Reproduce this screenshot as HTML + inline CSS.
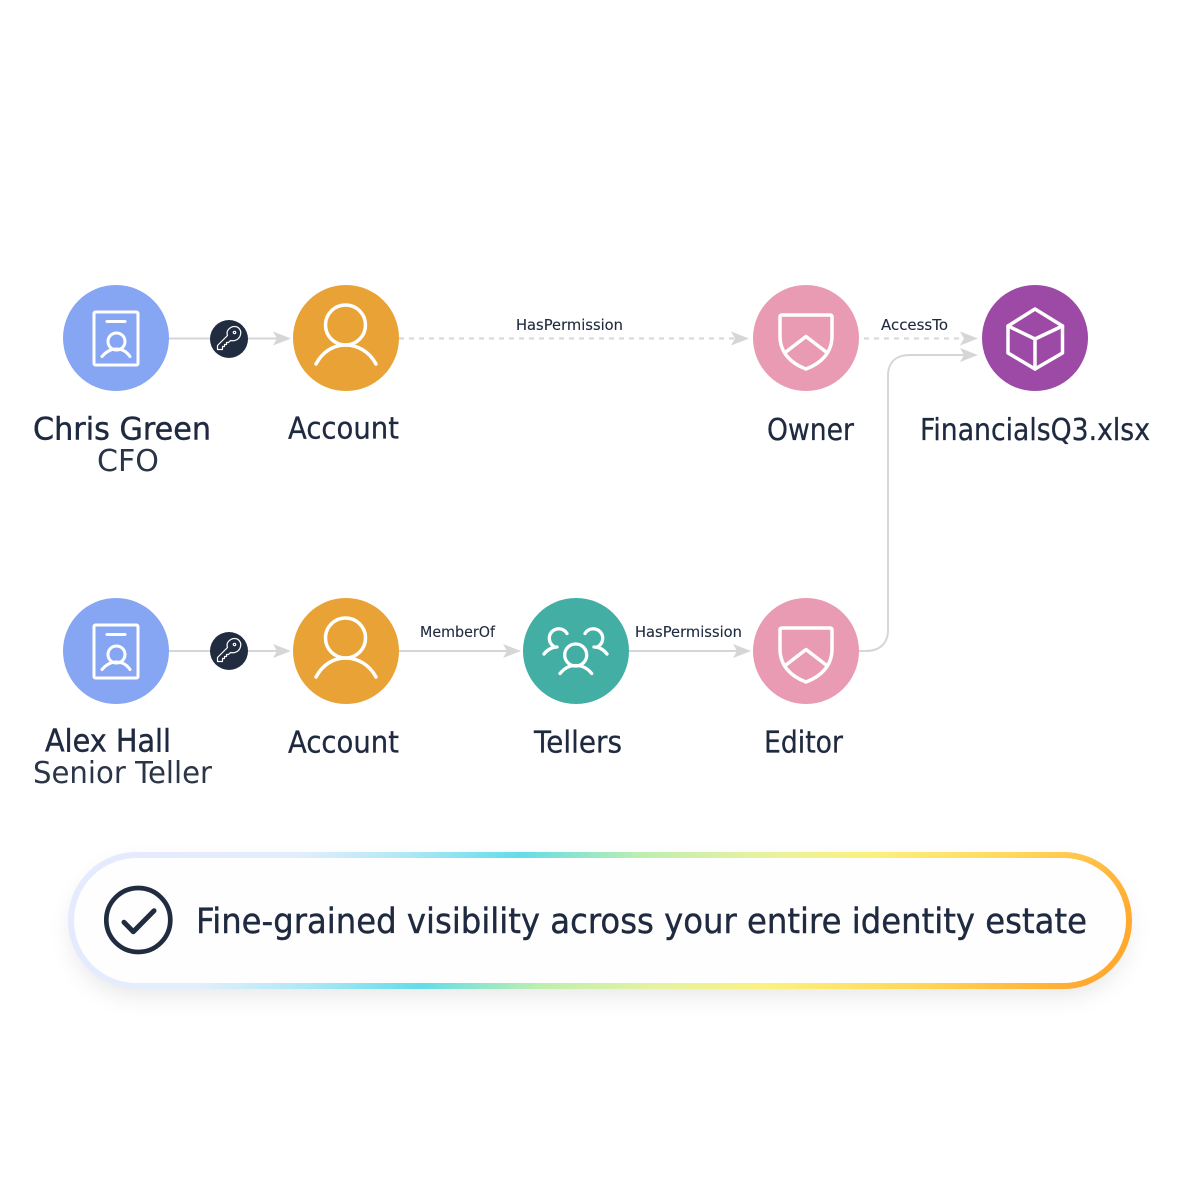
<!DOCTYPE html>
<html><head><meta charset="utf-8"><style>
html,body{margin:0;padding:0;background:#fff}
svg{display:block}
text{font-family:"DejaVu Sans","Liberation Sans",sans-serif;fill:#1f2a40}
.n{font-size:30px;stroke:#1f2a40;stroke-width:.3px}
.b{font-size:31.500px;stroke:#1f2a40;stroke-width:.45px}
.l{font-size:30.500px;fill:#2b3548}
.s{font-size:15px;stroke:#1f2a40;stroke-width:.12px}
</style></head><body>
<svg width="1200" height="1200" viewBox="0 0 1200 1200" xmlns="http://www.w3.org/2000/svg">
<defs>
<linearGradient id="g" gradientUnits="userSpaceOnUse" x1="68" y1="920" x2="740.600" y2="1433.500">
<stop offset="0" stop-color="#e6eafe"/><stop offset=".17" stop-color="#e2eefc"/><stop offset=".27" stop-color="#b0e8f5"/><stop offset=".378" stop-color="#62dde9"/><stop offset=".49" stop-color="#bdeeb0"/><stop offset=".6" stop-color="#e6f2a0"/><stop offset=".705" stop-color="#fbf27e"/><stop offset=".85" stop-color="#ffd65a"/><stop offset="1" stop-color="#ffa92e"/>
</linearGradient>
<filter id="sh" x="-5%" y="-20%" width="110%" height="150%"><feDropShadow dx="0" dy="10" stdDeviation="11" flood-color="#000" flood-opacity=".09"/></filter>
<g id="arrow"><path d="M-18 -7 L0 0 L-18 7 L-14 0Z" fill="#d6d6d8"/></g>
<g id="card" fill="none" stroke="#fff" stroke-width="3" stroke-linecap="round" stroke-linejoin="round"><rect x="-22" y="-26.500" width="44" height="53" rx="1.500"/><path d="M-9 -17H9" /><circle cx="0.500" cy="3" r="8.500"/><path d="M-14 18C-9 12 -4 10.500 0.500 10.500S10 12 14 18"/></g>
<g id="user" fill="none" stroke="#fff" stroke-width="3.500" stroke-linecap="round"><circle cx="-0.500" cy="-13" r="20"/><path d="M-30 26C-23 13 -12 7 -0.500 7S23 13 30 26"/></g>
<g id="shield" fill="none" stroke="#fff" stroke-width="3.500" stroke-linecap="round" stroke-linejoin="round"><path d="M-26 -21Q-26 -23 -24 -23H24Q26 -23 26 -21V-2C26 14 16 25 0 31C-16 25 -26 14 -26 -2Z"/><path d="M-19.500 13.500L0 -1.500L19.500 13.500"/></g>
<g id="key" fill="none" stroke="#fff" stroke-width="1.200" stroke-linejoin="round"><path d="M-11 10V6L-1 -4C-3 -9 2 -13 6 -13C11 -13 13 -8 12 -5C11 0 6 2 2 1L0 3H-2V5H-4V7H-6V10Z"/><circle cx="6" cy="-7" r="1.200"/></g>
</defs>
<rect width="1200" height="1200" fill="#fff"/>

<!-- connectors -->
<g fill="none" stroke="#d6d6d8" stroke-width="2">
<path d="M169 338.500H278"/>
<path d="M399 338.500H736" stroke-dasharray="5 5"/>
<path d="M864 338.500H965" stroke-dasharray="5 5"/>
<path d="M169 651H278"/>
<path d="M399 651H508"/>
<path d="M629 651H738"/>
<path d="M859 651H866C880 651 888 643 888 630V376C888 362 896 355 910 355H965"/>
</g>
<use href="#arrow" x="291" y="338.500"/><use href="#arrow" x="749" y="338.500"/><use href="#arrow" x="978" y="338.500"/><use href="#arrow" x="978" y="355"/>
<use href="#arrow" x="291" y="651"/><use href="#arrow" x="521" y="651"/><use href="#arrow" x="751" y="651"/>

<!-- nodes -->
<circle cx="116" cy="338" r="53" fill="#86a6f4"/><use href="#card" x="116" y="338.500"/>
<circle cx="346" cy="338" r="53" fill="#e9a235"/><use href="#user" x="346" y="338"/>
<circle cx="806" cy="338" r="53" fill="#e89bb2"/><use href="#shield" x="806" y="338"/>
<circle cx="1035" cy="338" r="53" fill="#9c4aa6"/>
<g fill="none" stroke="#fff" stroke-width="3.500" stroke-linejoin="round" stroke-linecap="round"><path d="M1035 309L1062.500 326V353L1035 369L1008 353V326Z"/><path d="M1008 326L1035 339L1062.500 326M1035 339V369"/></g>
<circle cx="229" cy="339" r="19" fill="#212c40"/><use href="#key" x="228.500" y="339.500"/>

<circle cx="116" cy="651" r="53" fill="#86a6f4"/><use href="#card" x="116" y="651.500"/>
<circle cx="346" cy="651" r="53" fill="#e9a235"/><use href="#user" x="346" y="651"/>
<circle cx="576" cy="651" r="53" fill="#43aea4"/>
<g fill="none" stroke="#fff" stroke-width="3.300" stroke-linecap="round"><circle cx="575.700" cy="655" r="11"/><path d="M560 673.500C566 666.500 571 665.500 575.700 665.500S586 666.500 591.700 673.500"/><path d="M567 633.500A9.500 9.500 0 1 0 554 646.500"/><path d="M544 654C547 650 552 647 557 647"/><path d="M585 633.500A9.500 9.500 0 1 1 598 646.500"/><path d="M607 654C604 650 600 647 594 647"/></g>
<circle cx="806" cy="651" r="53" fill="#e89bb2"/><use href="#shield" x="806" y="651"/>
<circle cx="229" cy="651" r="19" fill="#212c40"/><use href="#key" x="228.500" y="651.500"/>

<!-- labels -->
<text class="b" x="33" y="439.500" textLength="178" lengthAdjust="spacingAndGlyphs">Chris Green</text>
<text class="l" x="97" y="471" textLength="62" lengthAdjust="spacingAndGlyphs">CFO</text>
<text class="n" x="288" y="438.500" textLength="111" lengthAdjust="spacingAndGlyphs">Account</text>
<text class="n" x="767" y="440" textLength="87" lengthAdjust="spacingAndGlyphs">Owner</text>
<text class="n" x="920" y="440" textLength="230" lengthAdjust="spacingAndGlyphs">FinancialsQ3.xlsx</text>
<text class="b" x="45" y="751.500" textLength="126" lengthAdjust="spacingAndGlyphs">Alex Hall</text>
<text class="l" x="33" y="783" textLength="179" lengthAdjust="spacingAndGlyphs">Senior Teller</text>
<text class="n" x="288" y="752.500" textLength="111" lengthAdjust="spacingAndGlyphs">Account</text>
<text class="n" x="534" y="752.500" textLength="88" lengthAdjust="spacingAndGlyphs">Tellers</text>
<text class="n" x="764" y="752.500" textLength="79" lengthAdjust="spacingAndGlyphs">Editor</text>
<text class="s" x="516" y="330" textLength="107" lengthAdjust="spacingAndGlyphs">HasPermission</text>
<text class="s" x="881" y="330" textLength="67" lengthAdjust="spacingAndGlyphs">AccessTo</text>
<text class="s" x="420" y="637" textLength="75" lengthAdjust="spacingAndGlyphs">MemberOf</text>
<text class="s" x="635" y="637" textLength="107" lengthAdjust="spacingAndGlyphs">HasPermission</text>

<!-- pill -->
<rect x="71" y="855" width="1058" height="131" rx="65.500" fill="#fff" filter="url(#sh)"/>
<rect x="71" y="855" width="1058" height="131" rx="65.500" fill="#fefefe" stroke="url(#g)" stroke-width="6"/>
<circle cx="138.300" cy="920" r="32" fill="none" stroke="#212c40" stroke-width="4.700"/>
<path d="M124 922.300L133.300 931.700L154 910.700" fill="none" stroke="#212c40" stroke-width="5" stroke-linecap="round" stroke-linejoin="round"/>
<text x="196" y="933" font-size="35" stroke="#1f2a40" stroke-width=".4" textLength="891" lengthAdjust="spacingAndGlyphs">Fine-grained visibility across your entire identity estate</text>
</svg>
</body></html>
